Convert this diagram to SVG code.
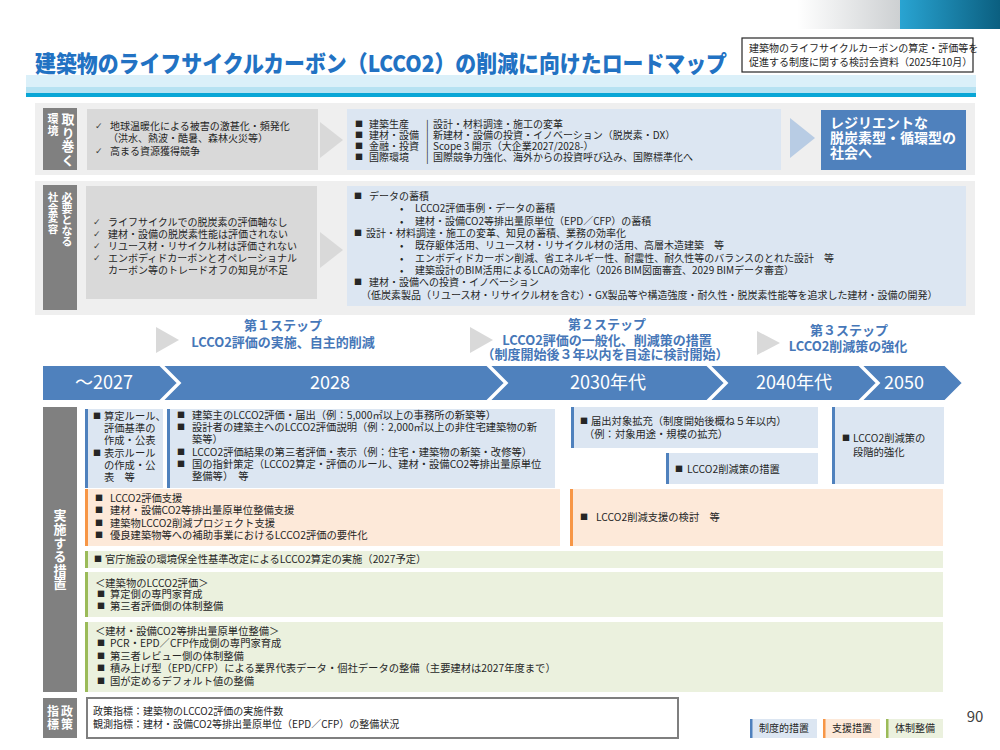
<svg xmlns="http://www.w3.org/2000/svg" width="1000" height="750" viewBox="0 0 1000 750">
<defs>
<linearGradient id="gGray" x1="0" x2="1"><stop offset="0" stop-color="#ffffff"/><stop offset="1" stop-color="#cdd0d2"/></linearGradient>
<linearGradient id="gTeal" x1="0" x2="1"><stop offset="0" stop-color="#29a4d2"/><stop offset="1" stop-color="#0b5f80"/></linearGradient>
</defs>
<style>
text { font-family: 'Noto Sans CJK JP', 'Noto Sans', sans-serif; }
.t { font-size: 10px; fill: #262626; }
.m { font-size: 10.3px; fill: #262626; }
.sq { font-size: 8px; fill: #262626; }
.ck { font-size: 9px; fill: #404040; font-family: 'DejaVu Sans', sans-serif; }
.lab { font-weight: bold; fill: #ffffff; writing-mode: vertical-rl; }
.sec { fill: #efefef; }
.lblbox { fill: #808080; }
.gbox { fill: #d9d9d9; }
.bbox { fill: #dce6f2; }
.obox { fill: #fde9d9; }
.grbox { fill: #ebf1de; }
.bl { fill: #4f81bd; }
.ol { fill: #f79646; }
.gl { fill: #9bbb59; }
.step { font-size: 13px; font-weight: bold; fill: #4677b8; text-anchor: middle; }
.tl { fill: #4f81bd; stroke: #ffffff; stroke-width: 2; }
.tlt { font-size: 18px; fill: #ffffff; text-anchor: middle; }
.tri { fill: #d9d9d9; }
</style>

<g id="header">
<rect x="797" y="0" width="103" height="29" fill="url(#gGray)"/>
<rect x="900" y="0" width="100" height="29" fill="url(#gTeal)"/>
<text x="35" y="72" font-size="23" font-weight="900" fill="#2272c3" textLength="692" lengthAdjust="spacingAndGlyphs">建築物のライフサイクルカーボン（LCCO2）の削減に向けたロードマップ</text>
<rect x="742" y="38" width="231" height="34" fill="#ffffff" stroke="#262626" stroke-width="1.2"/>
<text class="t" x="749" y="52" font-size="9.3">建築物のライフサイクルカーボンの算定・評価等を</text>
<text class="t" x="749" y="66" font-size="9.3">促進する制度に関する検討会資料（2025年10月）</text>
<rect x="26" y="75" width="950" height="12" fill="#dbf0f9"/>
<rect x="26" y="87" width="950" height="6" fill="#b6e2f2"/>
<rect x="26" y="93" width="950" height="4" fill="#09a6d6"/>
</g>

<g id="environment">
<rect class="sec" x="35" y="103" width="940" height="72"/>
<rect class="lblbox" x="43" y="108" width="34" height="62"/>
<text class="lab" x="68" y="113" font-size="13" letter-spacing="0.5">取り巻く</text>
<text class="lab" x="53" y="113" font-size="11" letter-spacing="1">環境</text>
<rect class="gbox" x="87" y="109" width="231" height="61"/>
<text class="ck" x="95" y="129">✓</text>
<text class="t" x="110" y="130">地球温暖化による被害の激甚化・頻発化</text>
<text class="t" x="108" y="142">（洪水、熱波・酷暑、森林火災等）</text>
<text class="ck" x="95" y="154">✓</text>
<text class="t" x="110" y="155">高まる資源獲得競争</text>
<polygon class="tri" points="320,122 343,140 320,158"/>
<rect class="bbox" x="347" y="109" width="434" height="61"/>
<text class="sq" x="355" y="127">■</text><text class="t" x="369" y="128">建築生産</text><text class="t" x="426" y="128" fill="#595959">|</text><text class="t" x="433" y="128">設計・材料調達・施工の変革</text>
<text class="sq" x="355" y="138">■</text><text class="t" x="369" y="139">建材・設備</text><text class="t" x="426" y="139" fill="#595959">|</text><text class="t" x="433" y="139">新建材・設備の投資・イノベーション（脱炭素・DX）</text>
<text class="sq" x="355" y="149">■</text><text class="t" x="369" y="150">金融・投資</text><text class="t" x="426" y="150" fill="#595959">|</text><text class="t" x="433" y="150">Scope 3 開示（大企業2027/2028-）</text>
<text class="sq" x="355" y="160">■</text><text class="t" x="369" y="161">国際環境</text><text class="t" x="426" y="161" fill="#595959">|</text><text class="t" x="433" y="161">国際競争力強化、海外からの投資呼び込み、国際標準化へ</text>
<polygon fill="#b8cce4" points="790,118 815,138 790,158"/>
<rect class="bl" x="821" y="110" width="145" height="60"/>
<text font-size="14" font-weight="bold" fill="#ffffff"><tspan x="830" y="128">レジリエントな</tspan><tspan x="830" y="143">脱炭素型・循環型の</tspan><tspan x="830" y="158">社会へ</tspan></text>
</g>

<g id="transformation">
<rect class="sec" x="35" y="181" width="940" height="134"/>
<rect class="lblbox" x="43" y="185" width="34" height="125"/>
<text class="lab" x="67" y="192" font-size="11">必要となる</text>
<text class="lab" x="53" y="192" font-size="10.5">社会変容</text>
<rect class="gbox" x="86" y="186" width="231" height="113"/>
<text class="ck" x="93" y="225">✓</text><text class="t" x="108" y="226" font-size="10.4">ライフサイクルでの脱炭素の評価軸なし</text>
<text class="ck" x="93" y="237">✓</text><text class="t" x="108" y="238" font-size="10.4">建材・設備の脱炭素性能は評価されない</text>
<text class="ck" x="93" y="249">✓</text><text class="t" x="108" y="250" font-size="10.4">リユース材・リサイクル材は評価されない</text>
<text class="ck" x="93" y="261">✓</text><text class="t" x="108" y="262" font-size="10.4">エンボディドカーボンとオペレーショナル</text>
<text class="t" x="108" y="274" font-size="10.4">カーボン等のトレードオフの知見が不足</text>
<polygon class="tri" points="320,232 343,250 320,268"/>
<rect class="bbox" x="347" y="186" width="619" height="120"/>
<text class="sq" x="354" y="199">■</text><text class="t" x="369" y="200">データの蓄積</text>
<text class="t" x="400" y="212">•</text><text class="t" x="415" y="212">LCCO2評価事例・データの蓄積</text>
<text class="t" x="400" y="225">•</text><text class="t" x="415" y="225">建材・設備CO2等排出量原単位（EPD／CFP）の蓄積</text>
<text class="sq" x="354" y="236">■</text><text class="t" x="366" y="237">設計・材料調達・施工の変革、知見の蓄積、業務の効率化</text>
<text class="t" x="400" y="249">•</text><text class="t" x="415" y="249">既存躯体活用、リユース材・リサイクル材の活用、高層木造建築　等</text>
<text class="t" x="400" y="262">•</text><text class="t" x="415" y="262">エンボディドカーボン削減、省エネルギー性、耐震性、耐久性等のバランスのとれた設計　等</text>
<text class="t" x="400" y="274">•</text><text class="t" x="415" y="274">建築設計のBIM活用によるLCAの効率化（2026 BIM図面審査、2029 BIMデータ審査）</text>
<text class="sq" x="354" y="285">■</text><text class="t" x="369" y="286">建材・設備への投資・イノベーション</text>
<text class="t" x="361" y="299">（低炭素製品（リユース材・リサイクル材を含む）・GX製品等や構造強度・耐久性・脱炭素性能等を追求した建材・設備の開発）</text>
</g>

<g id="steps">
<polygon class="tri" points="156,327 179,340 156,353"/>
<text class="step" x="283" y="330">第１ステップ</text>
<text class="step" x="283" y="347">LCCO2評価の実施、自主的削減</text>
<polygon class="tri" points="470,327 493,340 470,353"/>
<text class="step" x="607" y="329">第２ステップ</text>
<text class="step" x="607" y="345">LCCO2評価の一般化、削減策の措置</text>
<text class="step" x="605" y="359" font-size="8.8">（制度開始後３年以内を目途に検討開始）</text>
<polygon class="tri" points="757,331 780,343 757,355"/>
<text class="step" x="849" y="335">第３ステップ</text>
<text class="step" x="848" y="351">LCCO2削減策の強化</text>
</g>

<g id="timeline">
<polygon class="tl" points="42,365 160,365 178,383 160,401 42,401"/>
<polygon class="tl" points="162,365 487,365 505,383 487,401 162,401 180,383"/>
<polygon class="tl" points="489,365 707,365 725,383 707,401 489,401 507,383"/>
<polygon class="tl" points="709,365 859,365 877,383 859,401 709,401 727,383"/>
<polygon class="tl" points="861,365 945,365 963,383 945,401 861,401 879,383"/>
<text class="tlt" x="104" y="389">～2027</text>
<text class="tlt" x="330" y="389">2028</text>
<text class="tlt" x="608" y="389">2030年代</text>
<text class="tlt" x="794" y="389">2040年代</text>
<text class="tlt" x="904" y="389">2050</text>
</g>

<g id="measures">
<rect class="lblbox" x="43" y="407" width="34" height="285"/>
<text class="lab" x="60" y="509" font-size="13" letter-spacing="0.6">実施する措置</text>
</g>

<g id="box-rules">
<rect class="bbox" x="85" y="409" width="78" height="79"/><rect class="bl" x="85" y="409" width="3" height="79"/>
<text class="sq" x="93" y="419">■</text><text class="m" x="104" y="420" font-size="9.6">算定ルール、</text>
<text class="m" x="104" y="432" font-size="9.8">評価基準の</text>
<text class="m" x="104" y="444" font-size="9.8">作成・公表</text>
<text class="sq" x="93" y="456">■</text><text class="m" x="104" y="457" font-size="9.8">表示ルール</text>
<text class="m" x="104" y="469" font-size="9.8">の作成・公</text>
<text class="m" x="104" y="481" font-size="9.8">表　等</text>
</g>

<g id="box-2028">
<rect class="bbox" x="167" y="409" width="388" height="79"/><rect class="bl" x="167" y="409" width="3" height="79"/>
<text class="sq" x="177" y="418">■</text><text class="m" x="192" y="419">建築主のLCCO2評価・届出（例：5,000㎡以上の事務所の新築等）</text>
<text class="sq" x="177" y="430">■</text><text class="m" x="192" y="431">設計者の建築主へのLCCO2評価説明（例：2,000㎡以上の非住宅建築物の新</text>
<text class="m" x="192" y="443">築等）</text>
<text class="sq" x="177" y="455">■</text><text class="m" x="192" y="456">LCCO2評価結果の第三者評価・表示（例：住宅・建築物の新築・改修等）</text>
<text class="sq" x="177" y="467">■</text><text class="m" x="192" y="468">国の指針策定（LCCO2算定・評価のルール、建材・設備CO2等排出量原単位</text>
<text class="m" x="192" y="480">整備等）　等</text>
</g>

<g id="box-2030">
<rect class="bbox" x="571" y="407" width="247" height="41"/><rect class="bl" x="571" y="407" width="3" height="41"/>
<text class="sq" x="580" y="424">■</text><text class="m" x="591" y="425">届出対象拡充（制度開始後概ね５年以内）</text>
<text class="m" x="584" y="438">（例：対象用途・規模の拡充）</text>
</g>

<g id="box-2030b">
<rect class="bbox" x="666" y="453" width="152" height="31"/><rect class="bl" x="666" y="453" width="3" height="31"/>
<text class="sq" x="675" y="472">■</text><text class="m" x="687" y="473">LCCO2削減策の措置</text>
</g>

<g id="box-2040">
<rect class="bbox" x="832" y="407" width="112" height="77"/><rect class="bl" x="832" y="407" width="3" height="77"/>
<text class="sq" x="842" y="441">■</text><text class="m" x="853" y="442">LCCO2削減策の</text>
<text class="m" x="853" y="456">段階的強化</text>
</g>

<g id="box-support">
<rect class="obox" x="85" y="489" width="475" height="57"/><rect class="ol" x="85" y="489" width="3" height="57"/>
<text class="sq" x="95" y="501">■</text><text class="m" x="110" y="502">LCCO2評価支援</text>
<text class="sq" x="95" y="513">■</text><text class="m" x="110" y="514">建材・設備CO2等排出量原単位整備支援</text>
<text class="sq" x="95" y="526">■</text><text class="m" x="110" y="527">建築物LCCO2削減プロジェクト支援</text>
<text class="sq" x="95" y="538">■</text><text class="m" x="110" y="539">優良建築物等への補助事業におけるLCCO2評価の要件化</text>
</g>

<g id="box-support2">
<rect class="obox" x="570" y="489" width="373" height="57"/><rect class="ol" x="570" y="489" width="3" height="57"/>
<text class="sq" x="580" y="520">■</text><text class="m" x="596" y="521">LCCO2削減支援の検討　等</text>
</g>

<g id="box-gov">
<rect class="grbox" x="85" y="551" width="858" height="17"/><rect class="gl" x="85" y="551" width="3" height="17"/>
<text class="sq" x="94" y="562">■</text><text class="m" x="105" y="563">官庁施設の環境保全性基準改定によるLCCO2算定の実施（2027予定）</text>
</g>

<g id="box-eval">
<rect class="grbox" x="85" y="572" width="858" height="45"/><rect class="gl" x="85" y="572" width="3" height="45"/>
<text class="m" x="95" y="587">＜建築物のLCCO2評価＞</text>
<text class="sq" x="97" y="597">■</text><text class="m" x="110" y="598">算定側の専門家育成</text>
<text class="sq" x="97" y="609">■</text><text class="m" x="110" y="610">第三者評価側の体制整備</text>
</g>

<g id="box-epd">
<rect class="grbox" x="85" y="622" width="858" height="70"/><rect class="gl" x="85" y="622" width="3" height="70"/>
<text class="m" x="95" y="635">＜建材・設備CO2等排出量原単位整備＞</text>
<text class="sq" x="97" y="646">■</text><text class="m" x="110" y="647">PCR・EPD／CFP作成側の専門家育成</text>
<text class="sq" x="97" y="659">■</text><text class="m" x="110" y="660">第三者レビュー側の体制整備</text>
<text class="sq" x="97" y="671">■</text><text class="m" x="110" y="672">積み上げ型（EPD/CFP）による業界代表データ・個社データの整備（主要建材は2027年度まで）</text>
<text class="sq" x="97" y="684">■</text><text class="m" x="110" y="685">国が定めるデフォルト値の整備</text>
</g>

<g id="indicators">
<rect class="lblbox" x="43" y="698" width="34" height="40"/>
<text class="lab" x="67" y="705" font-size="12" letter-spacing="1">政策</text>
<text class="lab" x="53" y="705" font-size="12" letter-spacing="1">指標</text>
<rect x="87" y="698" width="591" height="40" fill="#ffffff" stroke="#7f7f7f" stroke-width="2"/>
<text class="t" x="93" y="715">政策指標：建築物のLCCO2評価の実施件数</text>
<text class="t" x="93" y="728">観測指標：建材・設備CO2等排出量原単位（EPD／CFP）の整備状況</text>
</g>

<g id="legend">
<rect class="bbox" x="750" y="719" width="67" height="19"/><rect class="bl" x="750" y="719" width="2.5" height="19"/>
<text class="t" x="784" y="732" text-anchor="middle">制度的措置</text>
<rect class="obox" x="823" y="719" width="57" height="19"/><rect class="ol" x="823" y="719" width="2.5" height="19"/>
<text class="t" x="852" y="732" text-anchor="middle">支援措置</text>
<rect class="grbox" x="886" y="719" width="57" height="19"/><rect class="gl" x="886" y="719" width="2.5" height="19"/>
<text class="t" x="915" y="732" text-anchor="middle">体制整備</text>
</g>

<text x="975" y="722" font-size="15" fill="#404040" text-anchor="middle">90</text>
</svg>
